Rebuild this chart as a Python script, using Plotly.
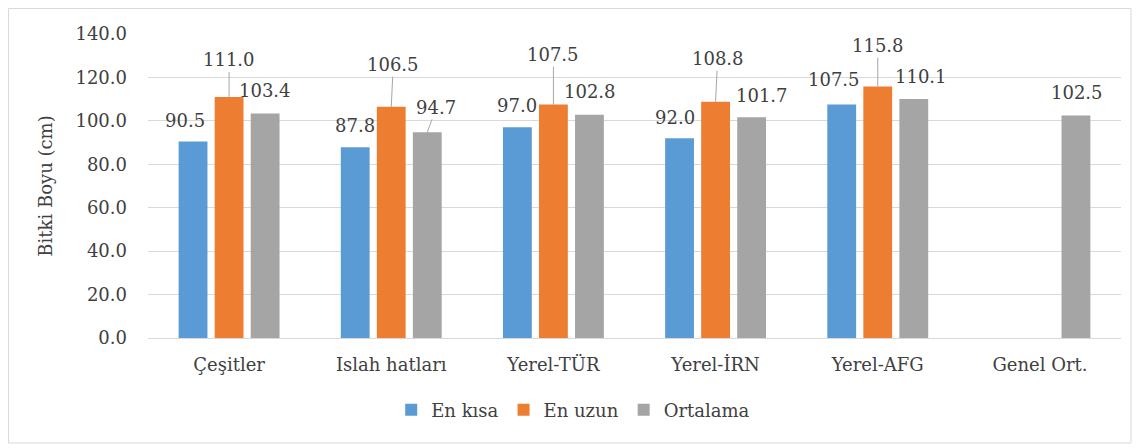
import plotly.graph_objects as go

categories = ["Çeşitler", "Islah hatları", "Yerel-TÜR", "Yerel-İRN", "Yerel-AFG", "Genel Ort."]
en_kisa = [90.5, 87.8, 97.0, 92.0, 107.5, None]
en_uzun = [111.0, 106.5, 107.5, 108.8, 115.8, None]
ortalama = [103.4, 94.7, 102.8, 101.7, 110.1, 102.5]

series_names = ["En kısa", "En uzun", "Ortalama"]
series_values = [en_kisa, en_uzun, ortalama]
colors = ["#5b9bd5", "#ed7d31", "#a5a5a5"]

# label placement (pixel offsets from bar top centre, leader line yes/no)
label_offsets = [
    [(-8, -21, False), (0, -22, False), (0, -22, False), (-5, -21, False), (-8, -25, False), None],
    [(0, -37, True), (2, -42, True), (0, -50, True), (2, -43, True), (0, -41, True), None],
    [(0, -23, False), (9, -25, True), (1, -23, False), (10, -22, False), (7, -22, False), (1, -23, False)],
]

FONT = "DejaVu Serif"  # only serif face the browser picks up
TXT = "#404040"
FS = 18
bargap = 1 / 3
slot = (1 - bargap) / 3

fig = go.Figure()
for name, vals, col in zip(series_names, series_values, colors):
    fig.add_trace(go.Bar(x=categories, y=vals, name=name, marker_color=col,
                         marker_line_width=0))

annotations = []
for s, vals in enumerate(series_values):
    shift = (s - 1) * slot
    for i, v in enumerate(vals):
        if v is None:
            continue
        dx, dy, leader = label_offsets[s][i]
        a = dict(x=i + shift, y=v, xref="x", yref="y", text=f"{v:.1f}",
                 font=dict(family=FONT, size=FS, color=TXT))
        if leader:
            a.update(showarrow=True, arrowhead=0, arrowwidth=1, arrowcolor="#a6a6a6",
                     ax=dx, ay=dy, standoff=0)
        else:
            a.update(showarrow=False, xshift=dx, yshift=-dy)
        annotations.append(a)

# page body adds 8px, so figure is 8px smaller and margins shifted
fig.update_layout(
    width=1132, height=440,
    margin=dict(l=140, r=19, t=26, b=110, autoexpand=False),
    paper_bgcolor="white", plot_bgcolor="white",
    barmode="group", bargap=bargap, bargroupgap=0.2,
    font=dict(family=FONT, size=FS, color=TXT),
    annotations=annotations,
    legend=dict(orientation="h", x=0.437, xanchor="center", y=-0.237, yanchor="middle",
                font=dict(family=FONT, size=FS, color=TXT), itemwidth=30,
                traceorder="normal"),
    shapes=[dict(type="rect", xref="paper", yref="paper", x0=-0.1434, x1=1.0103,
                 y0=-0.3454, y1=1.0839, line=dict(color="#d9d9d9", width=1))],
)
fig.update_xaxes(showgrid=False, showline=True, linecolor="#d9d9d9", linewidth=1,
                 ticks="", ticklabelstandoff=10, automargin=False,
                 tickfont=dict(family=FONT, size=FS))
fig.update_yaxes(range=[0, 140], dtick=20, tickformat=".1f", showgrid=True,
                 gridcolor="#d9d9d9", gridwidth=1, zeroline=False, ticks="",
                 ticklabelstandoff=20, automargin=False,
                 tickfont=dict(family=FONT, size=FS),
                 title=dict(text="Bitki Boyu (cm)", standoff=18,
                            font=dict(family=FONT, size=FS)))

fig.write_html("out.html")
